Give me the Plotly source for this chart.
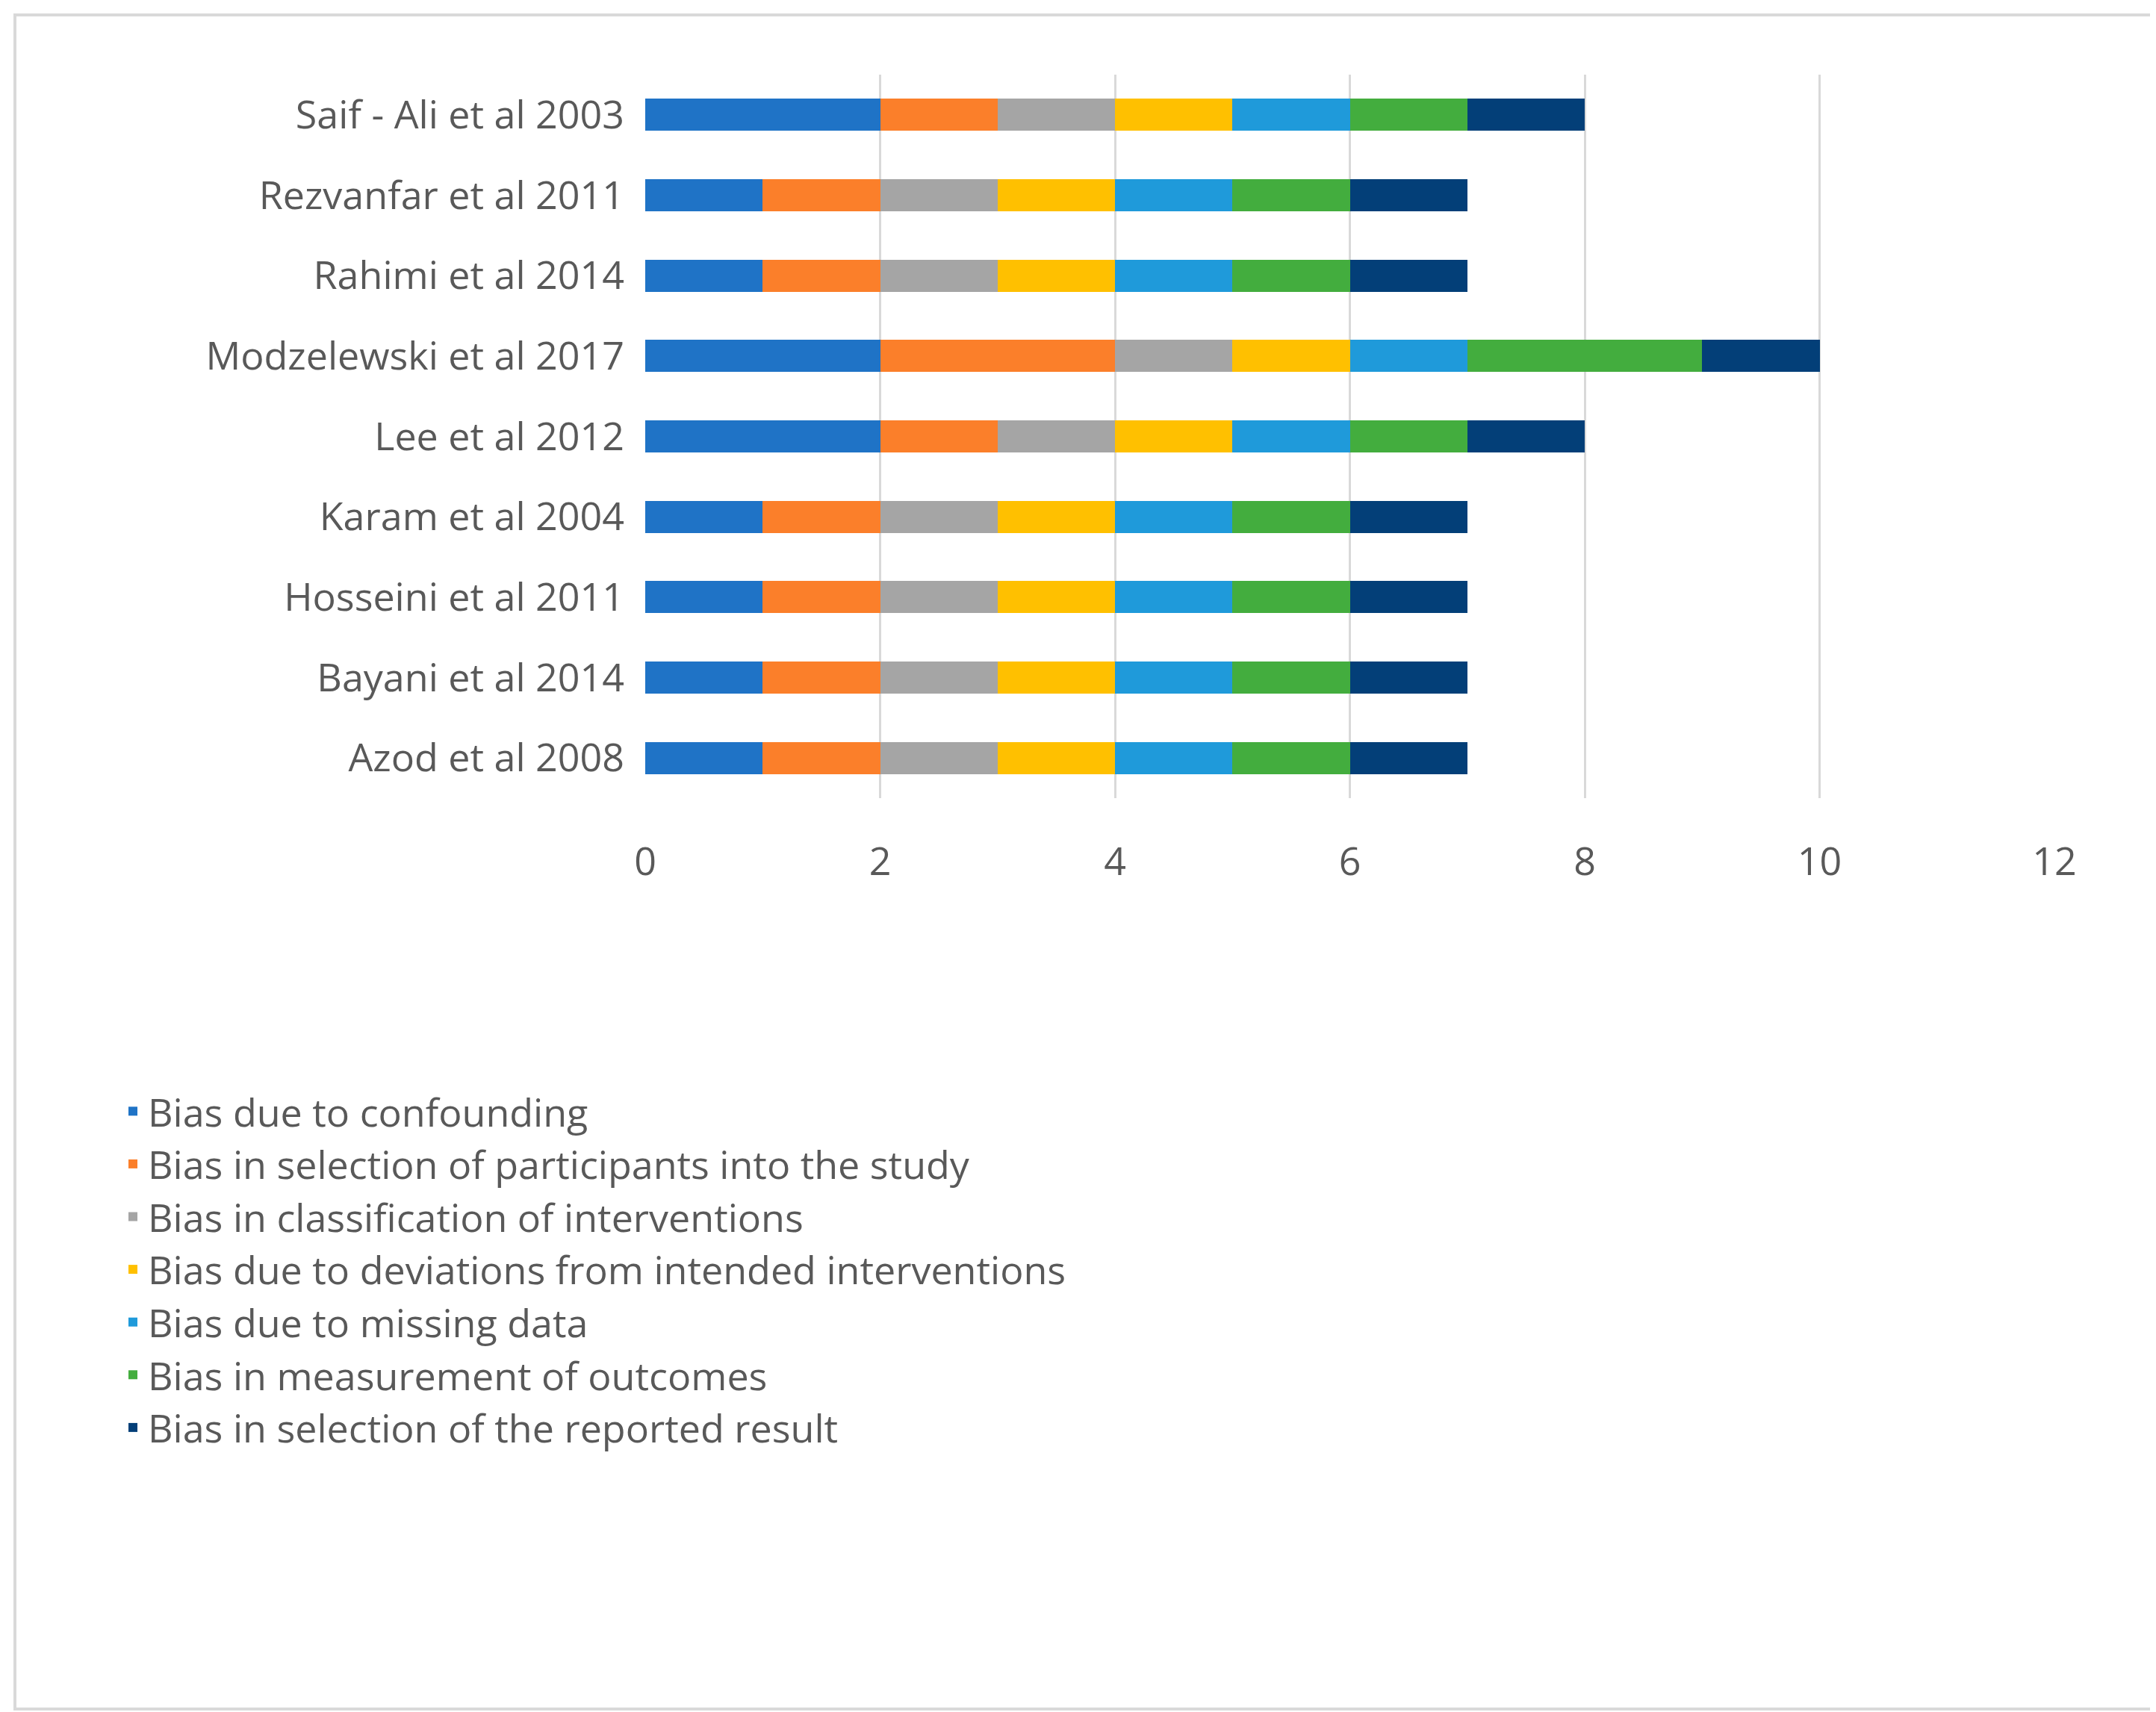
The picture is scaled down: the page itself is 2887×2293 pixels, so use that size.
import plotly.graph_objects as go

studies = ["Azod et al 2008", "Bayani et al 2014", "Hosseini et al 2011", "Karam et al 2004",
           "Lee et al 2012", "Modzelewski et al 2017", "Rahimi et al 2014",
           "Rezvanfar et al 2011", "Saif - Ali et al 2003"]

domains = ["Bias due to confounding",
           "Bias in selection of participants into the study",
           "Bias in classification of interventions",
           "Bias due to deviations from intended interventions",
           "Bias due to missing data",
           "Bias in measurement of outcomes",
           "Bias in selection of the reported result"]

colors = ["#1f73c6", "#fb7f2a", "#a5a5a5", "#ffc000", "#1f9ada", "#43ad3e", "#033f78"]

confounding = [1, 1, 1, 1, 2, 2, 1, 1, 2]
selection = [1, 1, 1, 1, 1, 2, 1, 1, 1]
classification = [1, 1, 1, 1, 1, 1, 1, 1, 1]
deviations = [1, 1, 1, 1, 1, 1, 1, 1, 1]
missing = [1, 1, 1, 1, 1, 1, 1, 1, 1]
measurement = [1, 1, 1, 1, 1, 2, 1, 1, 1]
reported = [1, 1, 1, 1, 1, 1, 1, 1, 1]

series = [confounding, selection, classification, deviations, missing, measurement, reported]

fig = go.Figure()
for name, vals, c in zip(domains, series, colors):
    fig.add_trace(go.Bar(y=studies, x=vals, name=name, orientation="h",
                         marker=dict(color=c, line=dict(width=0)), legendgroup=name))

W, H = 2887, 2293
L, R, T, B = 856, 144, 92, 1232
pw, ph = W - L - R, H - T - B

fig.update_layout(
    width=W, height=H, barmode="stack", bargap=0.6,
    plot_bgcolor="white", paper_bgcolor="white",
    margin=dict(l=L, r=R, t=T, b=B),
    font=dict(family="Open Sans", size=52, color="#595959"),
    xaxis=dict(range=[0, 12], dtick=2, showgrid=True, gridcolor="#d9d9d9", gridwidth=3,
               zeroline=False, ticklabelstandoff=50),
    yaxis=dict(showgrid=False, ticksuffix="  "),
    legend=dict(x=-(L - 150) / pw, xanchor="left", y=-(1440 - T - ph) / ph - 1 + 1,
                yanchor="top", traceorder="normal", tracegroupgap=38,
                font=dict(size=52, color="#595959")),
    shapes=[dict(type="rect", xref="paper", yref="paper",
                 x0=-(L - 12) / pw, x1=1 + (R - 12) / pw,
                 y0=-(B - 12) / ph, y1=1 + (T - 12) / ph,
                 line=dict(color="#d9d9d9", width=4))],
)
fig.update_layout(legend_y=-(1440 - (T + ph)) / ph)

fig.write_html("out.html")
